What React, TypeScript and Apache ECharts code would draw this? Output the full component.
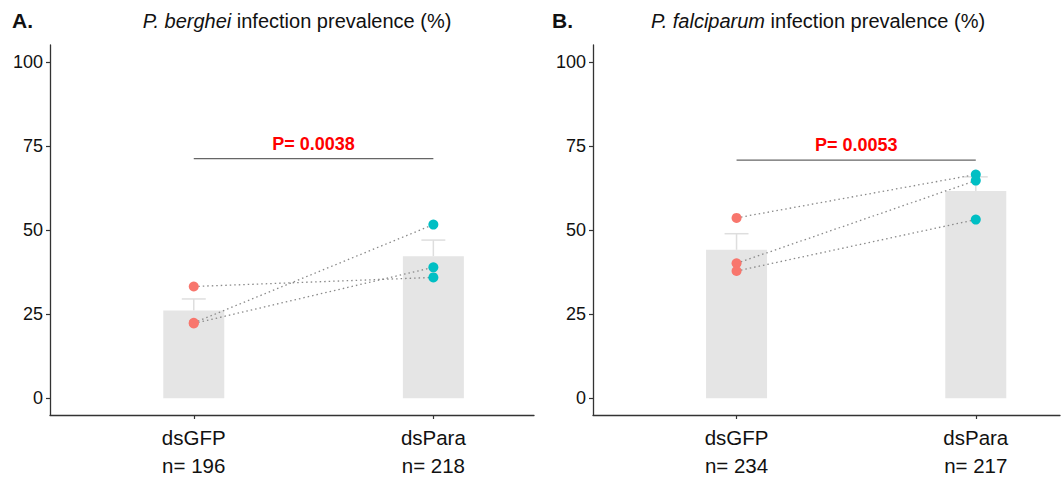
import React, { useEffect, useRef } from "react";
import * as echarts from "echarts";

// ---------- data ----------
const categories = ["dsGFP", "dsPara"];
const catPos = [1, 2];
const nLabelsA = ["n= 196", "n= 218"];
const nLabelsB = ["n= 234", "n= 217"];
const yTicks = [0, 25, 50, 75, 100];

// Panel A: P. berghei (paired replicates, index i pairs dsGFP[i] with dsPara[i])
const aGFP = [33.2, 22.4, 22.2];
const aPara = [35.9, 51.6, 38.9];
const aMeans = [26.1, 42.2];
const aErrTop = [29.5, 47.0];
const aSigY = 71.2;
const aP = "P= 0.0038";

// Panel B: P. falciparum
const bGFP = [53.6, 40.1, 37.8];
const bPara = [66.5, 64.7, 53.1];
const bMeans = [44.1, 61.6];
const bErrTop = [48.9, 65.8];
const bSigY = 70.8;
const bP = "P= 0.0053";

const FONT = "'Liberation Sans', Arial, Helvetica, sans-serif";
const RED = "#F8766D";
const CYAN = "#00BFC4";

function panelSeries(
  gi: number,
  gfp: number[],
  para: number[],
  means: number[],
  errTop: number[],
  sigY: number,
  pText: string
) {
  const s: any[] = [];
  s.push({
    type: "custom",
    xAxisIndex: gi,
    yAxisIndex: gi,
    z: 1,
    data: catPos.map((x, i) => [x, errTop[i], means[i]]),
    renderItem: (params: any, api: any) => {
      const x = api.value(0);
      const p0 = api.coord([x, api.value(2)]);
      const p1 = api.coord([x, api.value(1)]);
      const half = api.size([0.1, 0])[0] / 2;
      const st = { stroke: "#dedede", lineWidth: 1.5 };
      return {
        type: "group",
        children: [
          { type: "line", shape: { x1: p0[0], y1: p0[1], x2: p1[0], y2: p1[1] }, style: st },
          { type: "line", shape: { x1: p1[0] - half, y1: p1[1], x2: p1[0] + half, y2: p1[1] }, style: st },
        ],
      };
    },
  });
  s.push({
    type: "bar",
    xAxisIndex: gi,
    yAxisIndex: gi,
    z: 2,
    barWidth: 61,
    itemStyle: { color: "#e5e5e5" },
    data: catPos.map((x, i) => [x, means[i]]),
  });
  gfp.forEach((v, i) => {
    s.push({
      type: "line",
      xAxisIndex: gi,
      yAxisIndex: gi,
      z: 3,
      symbol: "none",
      lineStyle: { type: [1.5, 3], color: "#8a8a8a", width: 1.3 },
      data: [
        [catPos[0], v],
        [catPos[1], para[i]],
      ],
    });
  });
  s.push({
    type: "scatter",
    xAxisIndex: gi,
    yAxisIndex: gi,
    z: 4,
    symbolSize: 10,
    itemStyle: { color: RED, opacity: 1 },
    data: gfp.map((v) => [catPos[0], v]),
  });
  s.push({
    type: "scatter",
    xAxisIndex: gi,
    yAxisIndex: gi,
    z: 4,
    symbolSize: 10,
    itemStyle: { color: CYAN, opacity: 1 },
    data: para.map((v) => [catPos[1], v]),
  });
  s.push({
    type: "custom",
    xAxisIndex: gi,
    yAxisIndex: gi,
    z: 5,
    data: [[catPos[0], catPos[1], sigY]],
    renderItem: (params: any, api: any) => {
      const p1 = api.coord([api.value(0), api.value(2)]);
      const p2 = api.coord([api.value(1), api.value(2)]);
      return {
        type: "group",
        children: [
          {
            type: "line",
            shape: { x1: p1[0], y1: p1[1], x2: p2[0], y2: p2[1] },
            style: { stroke: "#666666", lineWidth: 1.2 },
          },
          {
            type: "text",
            x: (p1[0] + p2[0]) / 2,
            y: p1[1] - 15,
            style: {
              text: pText,
              fill: "#ff0000",
              font: `bold 18px ${FONT}`,
              align: "center",
              verticalAlign: "middle",
            },
          },
        ],
      };
    },
  });
  return s;
}

function xAxisCfg(gi: number, max: number, nLabels: string[]) {
  return {
    type: "value",
    gridIndex: gi,
    min: 0.4,
    max,
    axisLine: { show: true, onZero: false, lineStyle: { color: "#333", width: 1.3 } },
    axisTick: { show: true, customValues: catPos, length: 4, lineStyle: { color: "#333", width: 1.2 } },
    axisLabel: {
      customValues: catPos,
      margin: 8,
      color: "#111",
      fontSize: 20.5,
      fontFamily: FONT,
      lineHeight: 28,
      formatter: (v: number) => {
        const i = Math.round(v) - 1;
        return `${categories[i]}\n${nLabels[i]}`;
      },
    },
    splitLine: { show: false },
  };
}

function yAxisCfg(gi: number) {
  return {
    type: "value",
    gridIndex: gi,
    min: -5,
    max: 105,
    axisLine: { show: true, onZero: false, lineStyle: { color: "#333", width: 1.3 } },
    axisTick: { show: true, customValues: yTicks, length: 4, lineStyle: { color: "#333", width: 1.2 } },
    axisLabel: {
      customValues: yTicks,
      margin: 7,
      color: "#111",
      fontSize: 18,
      fontFamily: FONT,
    },
    splitLine: { show: false },
  };
}

function titleText(x: number, italic: string, rest: string) {
  return {
    type: "text",
    x,
    y: 21,
    style: {
      text: `{i|${italic}}{n|${rest}}`,
      align: "center",
      verticalAlign: "middle",
      rich: {
        i: { fontStyle: "italic", fontSize: 20, fontFamily: FONT, fill: "#111" },
        n: { fontSize: 20, fontFamily: FONT, fill: "#111" },
      },
    },
  };
}

export default function App() {
  const ref = useRef<HTMLDivElement>(null);
  useEffect(() => {
    if (!ref.current) return;
    const chart = echarts.init(ref.current, null, { renderer: "svg" });
    chart.setOption({
      animation: false,
      backgroundColor: "#ffffff",
      grid: [
        { left: 50, top: 45, width: 484, height: 370, containLabel: false },
        { left: 593, top: 45, width: 467, height: 370, containLabel: false },
      ],
      xAxis: [xAxisCfg(0, 2.42, nLabelsA), xAxisCfg(1, 2.352, nLabelsB)],
      yAxis: [yAxisCfg(0), yAxisCfg(1)],
      series: [
        ...panelSeries(0, aGFP, aPara, aMeans, aErrTop, aSigY, aP),
        ...panelSeries(1, bGFP, bPara, bMeans, bErrTop, bSigY, bP),
      ],
      graphic: [
        {
          type: "text",
          x: 12,
          y: 20,
          style: { text: "A.", font: `bold 21px ${FONT}`, fill: "#111", verticalAlign: "middle" },
        },
        {
          type: "text",
          x: 552,
          y: 20,
          style: { text: "B.", font: `bold 21px ${FONT}`, fill: "#111", verticalAlign: "middle" },
        },
        titleText(297, "P. berghei", " infection prevalence (%)"),
        titleText(818, "P. falciparum", " infection prevalence (%)"),
      ],
    });
    return () => chart.dispose();
  }, []);
  return (
    <div
      ref={ref}
      style={{ position: "fixed", left: 0, top: 0, width: 1064, height: 485, background: "#fff" }}
    />
  );
}
